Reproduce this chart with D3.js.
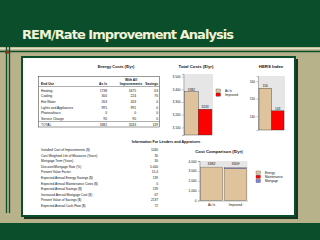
<!DOCTYPE html>
<html>
<head>
<meta charset="utf-8">
<script src="https://cdn.jsdelivr.net/npm/d3@7"></script>
<style>
  body { margin: 0; background: #b7b28a; }
  svg { display: block; }
  text { font-family: "Liberation Sans", Arial, sans-serif; fill: #111; }
</style>
</head>
<body>
<script>
// energy costs table
const endUses = ["Heating", "Cooling", "Hot Water", "Lights and Appliances", "Photovoltaics", "Service Charge", "TOTAL"];
const asIsCosts = [1738, 300, 263, 991, 0, 90, 3382];
const improvedCosts = [1675, 224, 263, 991, 0, 90, 3243];
const savingsCosts = [63, 76, 0, 0, 0, 0, 139];

// total costs + hers
const scenarios = ["As Is", "Improved"];
const totalCosts = [3382, 3243];
const totalTicks = [3100, 3200, 3300, 3400, 3500];
const hersValues = [156, 143];
const hersTicks = [140, 150, 160];

// cost comparison
const energyPart = [3382, 3243];
const maintPart = [0, 0];
const mortgagePart = [0, 67];
const compTotals = [3382, 3309];
const compTicks = [0, 1000, 2000, 3000, 4000];
const compKeys = ["Energy", "Maintenance", "Mortgage"];

// lenders info
const infoLabels = [
  "Installed Cost of Improvements ($)",
  "Cost Weighted Life of Measures (Years)",
  "Mortgage Term (Years)",
  "Discount/Mortgage Rate (%)",
  "Present Value Factor",
  "Expected Annual Energy Savings ($)",
  "Expected Annual Maintenance Costs ($)",
  "Expected Annual Savings ($)",
  "Increased Annual Mortgage Cost ($)",
  "Present Value of Savings ($)",
  "Expected Annual Cash Flow ($)"
];
const infoValues = ["1030", "30", "30", "5.000", "15.4", "139", "0", "139", "67", "2137", "72"];

const tan = "#dfc39d", red = "#ff0000", blue = "#7f7fdc", green = "#0b4e2c";

let svg = d3.select("body").append("svg").attr("width", 320).attr("height", 240);

// slide background
svg.append("rect").attr("width", 320).attr("height", 240).attr("fill", "#b7b28a");
svg.append("rect").attr("width", 320).attr("height", 47).attr("fill", green);
svg.append("rect").attr("y", 223).attr("width", 320).attr("height", 17).attr("fill", green);
svg.append("line").attr("x1", 0).attr("x2", 320).attr("y1", 48.5).attr("y2", 48.5).attr("stroke", "#e2e0c6").attr("stroke-width", 1.5);
svg.append("line").attr("x1", 0).attr("x2", 320).attr("y1", 51.5).attr("y2", 51.5).attr("stroke", green).attr("stroke-width", 1.5);
[6.5, 9.5].forEach(x => {
  svg.append("line").attr("x1", x).attr("x2", x).attr("y1", 47).attr("y2", 213).attr("stroke", green).attr("stroke-width", 1.3);
});
svg.append("rect").attr("x", 5).attr("y", 50.5).attr("width", 4).attr("height", 3).attr("fill", "#7a3a22");

svg.append("text")
  .attr("x", 22).attr("y", 39)
  .attr("textLength", 212)
  .style("font-family", "'DejaVu Sans', Verdana, sans-serif")
  .style("font-weight", "bold").style("font-size", "13px")
  .style("fill", "#eef2d6")
  .text("REM/Rate Improvement Analysis");

// panel
svg.append("rect").attr("x", 24).attr("y", 59).attr("width", 274).attr("height", 160).attr("fill", "#1d3322");
svg.append("rect").attr("x", 22).attr("y", 57).attr("width", 273).attr("height", 159)
  .attr("fill", "#fff").attr("stroke", green).attr("stroke-width", 2);

// ---- energy costs table
let tbl = svg.append("g");
tbl.append("text").attr("x", 116).attr("y", 67.5).attr("text-anchor", "middle")
  .style("font-size", "4px").style("font-weight", "bold").text("Energy Costs ($/yr)");
tbl.append("rect").attr("x", 38.5).attr("y", 76.5).attr("width", 121).attr("height", 50.5)
  .attr("fill", "none").attr("stroke", "#333").attr("stroke-width", 0.5);
tbl.append("line").attr("x1", 38.5).attr("x2", 159.5).attr("y1", 86.5).attr("y2", 86.5).attr("stroke", "#333").attr("stroke-width", 0.4);
tbl.append("line").attr("x1", 38.5).attr("x2", 159.5).attr("y1", 121.5).attr("y2", 121.5).attr("stroke", "#333").attr("stroke-width", 0.4);
let hdr = tbl.append("g").style("font-size", "3.3px").style("font-weight", "bold");
hdr.append("text").attr("x", 41).attr("y", 85).text("End Use");
hdr.append("text").attr("x", 107).attr("y", 85).attr("text-anchor", "end").text("As Is");
hdr.append("text").attr("x", 131).attr("y", 80.5).attr("text-anchor", "middle").text("With All");
hdr.append("text").attr("x", 131).attr("y", 85).attr("text-anchor", "middle").text("Improvements");
hdr.append("text").attr("x", 158).attr("y", 85).attr("text-anchor", "end").text("Savings");

let rowY = d3.scalePoint().domain(endUses).range([91.5, 125.5]);
let rows = tbl.selectAll("g.row").data(endUses).enter().append("g")
  .attr("class", "row")
  .attr("transform", d => `translate(0, ${rowY(d)})`)
  .style("font-size", "3.3px");
rows.append("text").attr("x", 41).text(d => d);
rows.append("text").attr("x", 107).attr("text-anchor", "end").text((d, i) => asIsCosts[i]);
rows.append("text").attr("x", 136).attr("text-anchor", "end").text((d, i) => improvedCosts[i]);
rows.append("text").attr("x", 158).attr("text-anchor", "end").text((d, i) => savingsCosts[i]);

// ---- two bar charts with shared look
let barChart = (title, titleX, left, right, top, bottom, domain, values, ticks) => {
  let g = svg.append("g");
  g.append("text").attr("x", titleX).attr("y", 67.5).attr("text-anchor", "middle")
    .style("font-size", "4.3px").style("font-weight", "bold").text(title);
  let x = d3.scaleBand().domain(scenarios).range([left, right]).paddingInner(0).paddingOuter(0.08);
  let y = d3.scaleLinear().domain(domain).range([bottom, top]);
  g.append("rect").attr("x", left).attr("y", top).attr("width", right - left).attr("height", bottom - top).attr("fill", "#e6e6e6");
  g.selectAll("rect.bar").data(values).enter().append("rect")
    .attr("class", "bar")
    .attr("x", (d, i) => x(scenarios[i]))
    .attr("width", x.bandwidth())
    .attr("y", d => y(d))
    .attr("height", d => bottom - y(d))
    .attr("fill", (d, i) => i ? red : tan)
    .attr("stroke", "#333").attr("stroke-width", 0.4);
  g.selectAll("text.val").data(values).enter().append("text")
    .attr("x", (d, i) => x(scenarios[i]) + x.bandwidth() / 2)
    .attr("y", d => y(d) - 1)
    .attr("text-anchor", "middle").style("font-size", "3.2px").text(d => d);
  let ax = g.append("g").attr("transform", `translate(${left},0)`)
    .call(d3.axisLeft(y).tickValues(ticks).tickSize(1.5).tickPadding(1.5));
  ax.select(".domain").attr("stroke", "#555").attr("stroke-width", 0.4);
  ax.selectAll("line").attr("stroke", "#555").attr("stroke-width", 0.4);
  ax.selectAll("text").style("font-size", "3.2px").attr("font-family", null);
  return g;
};

let tc = barChart("Total Costs ($/yr)", 196, 183.5, 213, 74, 135, [3040, 3520], totalCosts, totalTicks);
let lg = tc.append("g");
scenarios.forEach((s, i) => {
  lg.append("rect").attr("x", 216).attr("y", 89 + i * 4).attr("width", 4.5).attr("height", 3.2)
    .attr("fill", i ? red : tan).attr("stroke", "#333").attr("stroke-width", 0.3);
  lg.append("text").attr("x", 225).attr("y", 91.8 + i * 4).style("font-size", "3.1px").text(s);
});

barChart("HERS Index", 271, 258, 285, 76, 130, [132, 163], hersValues, hersTicks);

// ---- lenders info
let info = svg.append("g");
info.append("text").attr("x", 166).attr("y", 142.5).attr("text-anchor", "middle")
  .style("font-size", "3.6px").style("font-weight", "bold").text("Information For Lenders and Appraisers");
let infoY = d3.scalePoint().domain(infoLabels).range([151, 207]);
let irows = info.selectAll("g.irow").data(infoLabels).enter().append("g")
  .attr("transform", d => `translate(0, ${infoY(d)})`).style("font-size", "3.2px");
irows.append("text").attr("x", 41).text(d => d);
irows.append("text").attr("x", 158).attr("text-anchor", "end").text((d, i) => infoValues[i]);

// ---- cost comparison stacked bars
let cc = svg.append("g");
cc.append("text").attr("x", 219).attr("y", 152.5).attr("text-anchor", "middle")
  .style("font-size", "4.3px").style("font-weight", "bold").text("Cost Comparison ($/yr)");
let cx = d3.scaleBand().domain(scenarios).range([199.5, 247.5]).paddingInner(0.06).paddingOuter(0.03);
let cy = d3.scaleLinear().domain([0, 4000]).range([200.5, 161]);
cc.append("rect").attr("x", 199.5).attr("y", 161).attr("width", 48).attr("height", 39.5).attr("fill", "#e6e6e6");
let stackData = scenarios.map((s, i) => ({ s, Energy: energyPart[i], Maintenance: maintPart[i], Mortgage: mortgagePart[i] }));
let stacked = d3.stack().keys(compKeys)(stackData);
let colors = d3.scaleOrdinal().domain(compKeys).range([tan, red, blue]);
cc.selectAll("g.layer").data(stacked).enter().append("g")
  .attr("fill", d => colors(d.key))
  .selectAll("rect").data(d => d).enter().append("rect")
  .attr("x", d => cx(d.data.s))
  .attr("width", cx.bandwidth())
  .attr("y", d => cy(d[1]))
  .attr("height", d => cy(d[0]) - cy(d[1]))
  .attr("stroke", "#444").attr("stroke-width", 0.3);
cc.selectAll("text.tot").data(compTotals).enter().append("text")
  .attr("x", (d, i) => cx(scenarios[i]) + cx.bandwidth() / 2)
  .attr("y", 165).attr("text-anchor", "middle").style("font-size", "3.6px").text(d => d);
let cax = cc.append("g").attr("transform", "translate(199.5,0)")
  .call(d3.axisLeft(cy).tickValues(compTicks).tickSize(1.5).tickPadding(1.5));
cax.select(".domain").attr("stroke", "#555").attr("stroke-width", 0.4);
cax.selectAll("line").attr("stroke", "#555").attr("stroke-width", 0.4);
cax.selectAll("text").style("font-size", "3.2px").attr("font-family", null);
let cbx = cc.append("g").attr("transform", "translate(0,200.5)")
  .call(d3.axisBottom(cx).tickSize(0).tickPadding(3));
cbx.select(".domain").attr("stroke", "#555").attr("stroke-width", 0.4);
cbx.selectAll("text").style("font-size", "3.2px").attr("font-family", null);
compKeys.forEach((k, i) => {
  cc.append("rect").attr("x", 256).attr("y", 171 + i * 4.2).attr("width", 4.5).attr("height", 3.2)
    .attr("fill", colors(k)).attr("stroke", "#444").attr("stroke-width", 0.3);
  cc.append("text").attr("x", 265).attr("y", 173.8 + i * 4.2).style("font-size", "3.1px").text(k);
});
</script>
</body>
</html>
